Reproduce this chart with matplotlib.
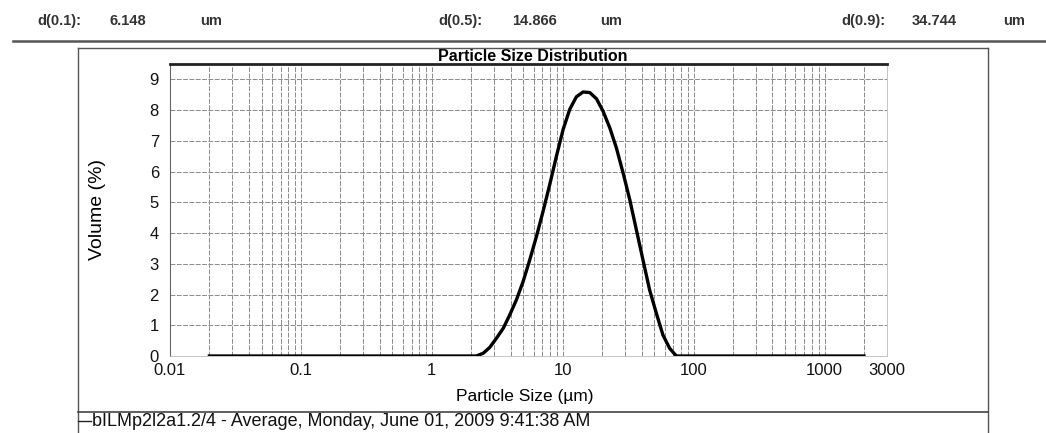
import matplotlib
matplotlib.use("Agg")
import matplotlib.pyplot as plt
from matplotlib.lines import Line2D
from matplotlib.ticker import LogLocator, NullFormatter

plt.rcParams['font.family'] = ['Liberation Sans', 'DejaVu Sans']

# ---- data ----
sizes_um = [0.02, 2.19, 2.47, 2.77, 3.12, 3.51, 3.94, 4.43, 4.98, 5.60, 6.30, 7.08, 7.96,
            8.95, 10.07, 11.3, 12.7, 14.3, 16.1, 18.1, 20.3, 22.9, 25.7, 28.9, 32.5,
            36.5, 41.0, 46.1, 51.9, 58.3, 65.6, 73.8, 2000]
volume_pct = [0.0, 0.0, 0.09, 0.28, 0.58, 0.90, 1.34, 1.83, 2.42, 3.13, 3.89, 4.71, 5.58,
              6.50, 7.37, 8.02, 8.43, 8.59, 8.57, 8.37, 7.97, 7.42, 6.77, 5.96, 5.09,
              4.11, 3.13, 2.15, 1.39, 0.68, 0.25, 0.0, 0.0]
x_ticks = [0.01, 0.1, 1, 10, 100, 1000, 3000]
x_ticklabels = ["0.01", "0.1", "1", "10", "100", "1000", "3000"]
y_ticks = [0, 1, 2, 3, 4, 5, 6, 7, 8, 9]
header_labels = ["d(0.1):", "d(0.5):", "d(0.9):"]
header_values = ["6.148", "14.866", "34.744"]
header_units = ["um", "um", "um"]
legend_text = "bILMp2l2a1.2/4 - Average, Monday, June 01, 2009 9:41:38 AM"

W, H = 1046, 433
fig = plt.figure(figsize=(W / 100, H / 100), dpi=100)

def fx(px):
    return px / W

def fy(py):
    return 1 - py / H

ax = fig.add_axes([fx(170), fy(356), fx(887) - fx(170), fy(64) - fy(356)])
ax.set_xscale('log')
ax.set_xlim(0.01, 3000)
ax.set_ylim(0, 9.5)

# grid
ax.xaxis.set_minor_locator(LogLocator(base=10, subs=range(2, 10), numticks=20))
ax.xaxis.set_minor_formatter(NullFormatter())
ax.grid(True, which='both', axis='x', color='#8a8a8a', lw=0.7, ls=(0, (5, 1.5)))
ax.grid(True, which='major', axis='y', color='#8a8a8a', lw=0.7, ls=(0, (5, 1.5)))
ax.set_axisbelow(True)

ax.plot(sizes_um, volume_pct, color='black', lw=2.4, solid_joinstyle='round')

ax.set_xticks(x_ticks)
ax.set_xticklabels(x_ticklabels)
ax.set_yticks(y_ticks)
ax.tick_params(axis='both', which='both', length=0, labelsize=12, colors='#111111')
ax.tick_params(axis='x', pad=5)
ax.tick_params(axis='y', pad=8)

for s in ['right', 'bottom']:
    ax.spines[s].set_color('#bbbbbb')
    ax.spines[s].set_linewidth(0.6)
ax.spines['left'].set_color('#666666')
ax.spines['left'].set_linewidth(0.8)
ax.spines['top'].set_color('#222222')
ax.spines['top'].set_linewidth(2.0)

ax.set_title("Particle Size Distribution", fontsize=11.5, fontweight='bold', pad=1,
             x=(533 - 170) / (887 - 170))

fig.text(fx(97), fy(210), "Volume (%)", rotation=90, ha='center', va='center', fontsize=14)
fig.text(fx(525), fy(396), "Particle Size (µm)", ha='center', va='center', fontsize=12.5)

# header
hx = [(37, 110, 200), (438, 512, 600), (841, 912, 1003)]
for (a, b, c), lab, val, unit in zip(hx, header_labels, header_values, header_units):
    for px, t in ((a, lab), (b, val), (c, unit)):
        fig.text(fx(px), fy(21), t, ha='left', va='center', fontsize=10.5,
                 fontweight='bold', color='#333333')

# frames
fig.add_artist(Line2D([fx(13), fx(1046)], [fy(41), fy(41)], color='#555555', lw=1.8))
fig.add_artist(Line2D([fx(78), fx(988)], [fy(48), fy(48)], color='#555555', lw=1.0))
fig.add_artist(Line2D([fx(78), fx(78)], [fy(48), fy(433)], color='#555555', lw=1.0))
fig.add_artist(Line2D([fx(988), fx(988)], [fy(48), fy(433)], color='#555555', lw=1.0))
fig.add_artist(Line2D([fx(78), fx(988)], [fy(412), fy(412)], color='#444444', lw=1.2))

# legend
fig.add_artist(Line2D([fx(78), fx(91)], [fy(421), fy(421)], color='#222222', lw=1.0))
fig.text(fx(92), fy(421), legend_text, ha='left', va='center', fontsize=13, color='#111111')

fig.savefig("out.png", dpi=100)
